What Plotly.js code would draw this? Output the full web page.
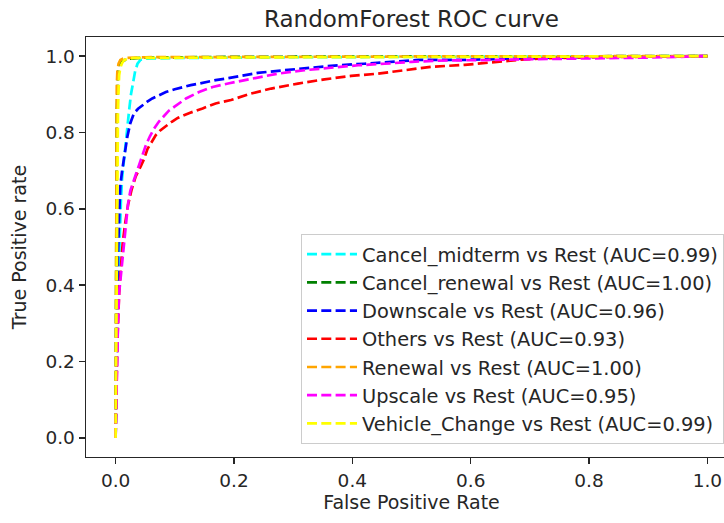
<!DOCTYPE html>
<html>
<head>
<meta charset="utf-8">
<script src="https://cdn.plot.ly/plotly-3.0.1.min.js"></script>
<style>
  html, body { margin: 0; padding: 0; background: #fff; overflow: hidden; width: 724px; height: 523px; }
  #chart { width: 737px; height: 523px; }
</style>
</head>
<body>
<div id="chart"></div>
<script>
// ---- data ----
const classNames = ["Cancel_midterm", "Cancel_renewal", "Downscale", "Others", "Renewal", "Upscale", "Vehicle_Change"];
const aucValues = [0.99, 1.00, 0.96, 0.93, 1.00, 0.95, 0.99];
const lineColors = ["cyan", "green", "blue", "red", "orange", "magenta", "yellow"];

const fprCancelMidterm = [0, 0.001, 0.003, 0.005, 0.007, 0.009, 0.011, 0.014, 0.017, 0.020, 0.023, 0.026, 0.029, 0.033, 0.037, 0.042, 0.05, 0.1, 0.3, 0.6, 1];
const tprCancelMidterm = [0, 0.15, 0.3, 0.42, 0.53, 0.62, 0.68, 0.73, 0.77, 0.82, 0.86, 0.9, 0.93, 0.96, 0.98, 0.99, 0.993, 0.995, 0.997, 0.999, 1];

const fprCancelRenewal = [0, 0.001, 0.002, 0.004, 0.006, 0.01, 0.02, 0.05, 0.2, 0.5, 1];
const tprCancelRenewal = [0, 0.6, 0.85, 0.95, 0.975, 0.985, 0.993, 0.996, 0.998, 0.999, 1];

const fprDownscale = [0, 0.001, 0.002, 0.003, 0.004, 0.006, 0.008, 0.011, 0.014, 0.02, 0.025, 0.031, 0.038, 0.045, 0.053, 0.062, 0.073, 0.085, 0.1, 0.113, 0.127, 0.141, 0.155, 0.169, 0.19, 0.209, 0.24, 0.285, 0.33, 0.376, 0.42, 0.466, 0.511, 0.585, 0.7, 0.8, 0.9, 1];
const tprDownscale = [0, 0.15, 0.3, 0.4, 0.48, 0.58, 0.66, 0.70, 0.73, 0.79, 0.825, 0.85, 0.862, 0.871, 0.88, 0.889, 0.898, 0.906, 0.913, 0.919, 0.924, 0.928, 0.933, 0.937, 0.942, 0.948, 0.956, 0.963, 0.97, 0.976, 0.98, 0.985, 0.99, 0.99, 0.995, 0.998, 0.999, 1];

const fprOthers = [0, 0.001, 0.003, 0.006, 0.009, 0.012, 0.016, 0.021, 0.027, 0.034, 0.042, 0.048, 0.054, 0.061, 0.068, 0.076, 0.085, 0.095, 0.105, 0.125, 0.147, 0.169, 0.195, 0.229, 0.263, 0.308, 0.353, 0.398, 0.443, 0.488, 0.534, 0.59, 0.62, 0.653, 0.68, 0.72, 0.8, 0.9, 1];
const tprOthers = [0, 0.1, 0.25, 0.38, 0.45, 0.51, 0.56, 0.61, 0.65, 0.685, 0.71, 0.73, 0.757, 0.777, 0.793, 0.806, 0.817, 0.828, 0.838, 0.851, 0.863, 0.876, 0.885, 0.902, 0.915, 0.928, 0.939, 0.948, 0.954, 0.963, 0.972, 0.977, 0.982, 0.986, 0.99, 0.994, 0.997, 0.999, 1];

const fprRenewal = [0, 0.0005, 0.001, 0.002, 0.003, 0.005, 0.008, 0.015, 0.05, 0.2, 0.5, 1];
const tprRenewal = [0, 0.5, 0.8, 0.92, 0.96, 0.98, 0.99, 0.995, 0.997, 0.998, 0.999, 1];

const fprUpscale = [0, 0.001, 0.002, 0.004, 0.006, 0.008, 0.01, 0.011, 0.014, 0.016, 0.018, 0.021, 0.025, 0.031, 0.037, 0.044, 0.051, 0.058, 0.065, 0.073, 0.082, 0.09, 0.099, 0.119, 0.141, 0.164, 0.192, 0.229, 0.274, 0.319, 0.364, 0.41, 0.455, 0.5, 0.545, 0.613, 0.7, 0.8, 0.9, 1];
const tprUpscale = [0, 0.1, 0.2, 0.3, 0.38, 0.41, 0.44, 0.473, 0.509, 0.543, 0.578, 0.613, 0.648, 0.675, 0.70, 0.733, 0.766, 0.79, 0.81, 0.828, 0.845, 0.857, 0.867, 0.889, 0.906, 0.919, 0.929, 0.941, 0.954, 0.963, 0.97, 0.976, 0.98, 0.985, 0.988, 0.99, 0.992, 0.994, 0.996, 1];

const fprVehicleChange = [0, 0.001, 0.002, 0.003, 0.004, 0.005, 0.006, 0.008, 0.011, 0.015, 0.02, 0.03, 0.1, 0.3, 0.6, 1];
const tprVehicleChange = [0, 0.3, 0.55, 0.75, 0.85, 0.91, 0.95, 0.97, 0.982, 0.99, 0.993, 0.995, 0.996, 0.997, 0.998, 1];

const tickValues = [0, 0.2, 0.4, 0.6, 0.8, 1.0];
const tickLabels = ["0.0", "0.2", "0.4", "0.6", "0.8", "1.0"];

const fprSeries = [fprCancelMidterm, fprCancelRenewal, fprDownscale, fprOthers, fprRenewal, fprUpscale, fprVehicleChange];
const tprSeries = [tprCancelMidterm, tprCancelRenewal, tprDownscale, tprOthers, tprRenewal, tprUpscale, tprVehicleChange];

// ---- traces ----
const traces = classNames.map((name, i) => ({
  type: "scatter",
  mode: "lines",
  x: fprSeries[i],
  y: tprSeries[i],
  name: name + " vs Rest (AUC=" + aucValues[i].toFixed(2) + ")",
  legendgroup: "g" + i,
  line: { color: lineColors[i], width: 2.7, dash: "10px,4.3px" },
  hoverinfo: "skip"
}));

const fontFamily = "DejaVu Sans, sans-serif";
const textColor = "#262626";

const layout = {
  width: 737,
  height: 523,
  margin: { l: 86, r: 0, t: 37, b: 66, pad: 0 },
  paper_bgcolor: "#ffffff",
  plot_bgcolor: "#ffffff",
  font: { family: fontFamily, size: 18.5, color: textColor },
  title: {
    text: "RandomForest ROC curve",
    font: { family: fontFamily, size: 23, color: textColor },
    x: 0.5, xref: "paper", xanchor: "center",
    y: 1 - 19 / 523, yref: "container", yanchor: "middle"
  },
  xaxis: {
    range: [-0.05, 1.05],
    tickmode: "array",
    tickvals: tickValues,
    ticktext: tickLabels,
    ticks: "outside",
    ticklen: 6,
    tickwidth: 1.4,
    tickcolor: "#262626",
    showline: true,
    linecolor: "#262626",
    linewidth: 1.4,
    mirror: true,
    showgrid: false,
    zeroline: false,
    tickfont: { family: fontFamily, size: 18.5, color: textColor },
    title: { text: "False Positive Rate", font: { family: fontFamily, size: 19, color: textColor }, standoff: 2 }
  },
  yaxis: {
    range: [-0.05, 1.05],
    tickmode: "array",
    tickvals: tickValues,
    ticktext: tickLabels,
    ticks: "outside",
    ticklen: 6,
    tickwidth: 1.4,
    tickcolor: "#262626",
    showline: true,
    linecolor: "#262626",
    linewidth: 1.4,
    mirror: false,
    showgrid: false,
    zeroline: false,
    tickfont: { family: fontFamily, size: 18.5, color: textColor },
    title: { text: "True Positive rate", font: { family: fontFamily, size: 19, color: textColor }, standoff: 14 }
  },
  showlegend: true,
  legend: {
    x: (301 - 86) / 651,
    y: (457 - 234) / 420,
    xanchor: "left",
    yanchor: "top",
    bgcolor: "rgba(255,255,255,0.8)",
    bordercolor: "#cccccc",
    borderwidth: 1,
    itemwidth: 50,
    tracegroupgap: 3.2,
    traceorder: "normal",
    font: { family: fontFamily, size: 19.4, color: textColor }
  }
};

Plotly.newPlot("chart", traces, layout, { displayModeBar: false, staticPlot: true });
</script>
</body>
</html>
